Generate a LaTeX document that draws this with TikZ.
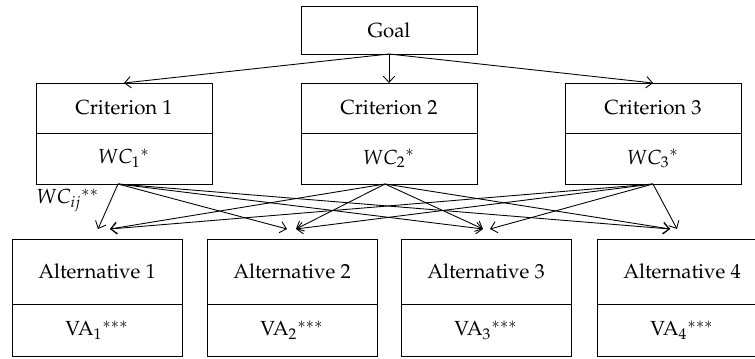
\documentclass[tikz,border=0pt]{standalone}
\usepackage{amsmath}
\usepackage[T1]{fontenc}
\usepackage{tikz,mathpazo}
\usetikzlibrary{positioning}
\usetikzlibrary{calc, arrows.meta}
\tikzstyle{goalbox} = [rectangle, minimum width=3.52cm, minimum height=0.96cm, text centered, draw=black, outer sep=0pt]
\tikzstyle{critbox} = [rectangle, minimum width=3.52cm, minimum height=1cm, text centered, draw=black, outer sep=0pt]
\tikzstyle{altbox} = [rectangle, minimum width=3.4cm, minimum height=1.3cm, text centered, draw=black, outer sep=0pt]
\tikzstyle{valbox} = [rectangle, minimum width=3.4cm, minimum height=1.04cm, text centered, draw=black, outer sep=0pt]
\tikzstyle{arrow} = [-{Straight Barb[length=3.5pt,width=6.5pt]}]
\tikzstyle{every node}=[font=\fontsize{11.6}{13.5}\selectfont]

\begin{document}
\begin{tikzpicture}[line width=0.5pt]
		\useasboundingbox (0,0) rectangle (15.1,7.16);
		\node (goal) [goalbox] at (7.78,6.56) {Goal};
		\node (c2) [critbox, below=0.58cm of goal] {Criterion 2};
		\node (c1) [critbox, left=1.78cm of c2] {Criterion 1};
		\node (c3) [critbox, right=1.76cm of c2] {Criterion 3};
		\node (w1) [critbox, below=0pt of c1, minimum height=1.02cm] {$WC_1{}^*$};
		\node (w2) [critbox, below=0pt of c2, minimum height=1.02cm] {$WC_2{}^*$};
		\node (w3) [critbox, below=0pt of c3, minimum height=1.02cm] {$WC_3{}^*$};
		
		\node (a1) [altbox] at (1.94,1.73) {Alternative 1};
		\node (a2) [altbox, right=0.5cm of a1] {Alternative 2};
		\node (a3) [altbox, right=0.48cm of a2] {Alternative 3};
		\node (a4) [altbox, right=0.52cm of a3] {Alternative 4};
		\node (v1) [valbox, below=0pt of a1] {VA$_1{}^{***}$};
		\node (v2) [valbox, below=0pt of a2] {VA$_2{}^{***}$};
		\node (v3) [valbox, below=0pt of a3] {VA$_3{}^{***}$};
		\node (v4) [valbox, below=0pt of a4] {VA$_4{}^{***}$};
		
		%arrow ends above the alternatives
		\coordinate (t1) at ($(a1.north)+(0.02,0.2)$);
		\coordinate (u1) at ($(a1.north)+(0.26,0.2)$);
		\coordinate (t2) at ($(a2.north)+(-0.1,0.2)$);
		\coordinate (u2) at ($(a2.north)+(0.08,0.2)$);
		\coordinate (t3) at ($(a3.north)+(-0.06,0.2)$);
		\coordinate (u3) at ($(a3.north)+(0.08,0.2)$);
		\coordinate (t4) at ($(a4.north)+(-0.24,0.2)$);
		\coordinate (u4) at ($(a4.north)+(-0.1,0.2)$);
		
		\draw [arrow](goal.south) -- (c1.north);
		\draw [arrow](goal.south) -- (c2.north);
		\draw [arrow](goal.south) -- (c3.north);
		\draw [arrow]([xshift=-0.12cm]w1.south) -- node[pos=0.37,left=3pt] {$WC_{ij}{}^{**}$} (t1);
		\foreach \t in {t2,t3,t4}
		\draw [arrow]([xshift=-0.12cm]w1.south) -- (\t);
		\foreach \t in {u1,u2,t3,t4}
		\draw [arrow]([xshift=-0.08cm]w2.south) -- (\t);
		\foreach \t in {u1,u2,u3,u4}
		\draw [arrow](w3.south) -- (\t);
		
	\end{tikzpicture}
\end{document}
